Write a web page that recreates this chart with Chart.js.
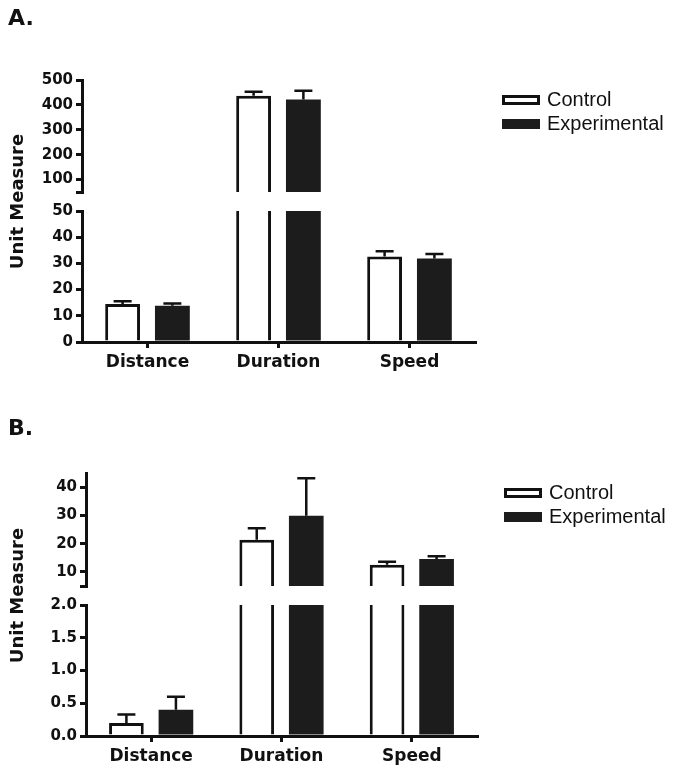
<!DOCTYPE html>
<html>
<head>
<meta charset="utf-8">
<script src="https://cdn.jsdelivr.net/npm/chart.js@4.4.1/dist/chart.umd.min.js"></script>
<style>
  body { margin: 0; background: #fff; }
  canvas { display: block; }
</style>
</head>
<body>
<canvas id="panelA" width="675" height="390"></canvas>
<canvas id="panelB" width="675" height="383"></canvas>
<script>
const categories = ['Distance', 'Duration', 'Speed'];
const seriesNames = ['Control', 'Experimental'];

// Panel A
const controlA = [14.5, 437, 32.6];
const controlErrA = [1.1, 16, 2.0];
const experimentalA = [13.8, 422, 31.9];
const experimentalErrA = [0.9, 35, 1.7];
const lowTicksA = [0, 10, 20, 30, 40, 50];
const highTicksA = [100, 200, 300, 400, 500];

// Panel B
const controlB = [0.2, 21.4, 12.5];
const controlErrB = [0.13, 4.0, 1.1];
const experimentalB = [0.4, 29.9, 14.6];
const experimentalErrB = [0.2, 13.2, 0.9];
const lowTicksB = [0, 0.5, 1.0, 1.5, 2.0];
const highTicksB = [10, 20, 30, 40];

const ink = '#111';
const darkFill = '#1c1c1c';
const boldFont = (size) => ({ family: 'DejaVu Sans', weight: 'bold', size: size });

// draws the upward whiskers for each bar
function errorBarPlugin(p) {
    return {
        id: 'errorBars',
        afterDatasetsDraw(chart) {
            const ctx = chart.ctx;
            ctx.save();
            ctx.strokeStyle = ink;
            ctx.lineWidth = 2.5;
            p.series.forEach((s, si) => {
                const meta = chart.getDatasetMeta(si);
                s.values.forEach((v, i) => {
                    const scale = v > p.lowMax ? chart.scales.yHigh : chart.scales.yLow;
                    const x = meta.data[i].x;
                    const y0 = scale.getPixelForValue(v);
                    const y1 = scale.getPixelForValue(v + s.errors[i]);
                    ctx.beginPath();
                    ctx.moveTo(x, y0);
                    ctx.lineTo(x, y1);
                    ctx.moveTo(x - 9, y1);
                    ctx.lineTo(x + 9, y1);
                    ctx.stroke();
                });
            });
            ctx.restore();
        }
    };
}

// legend to the right of the plot, boxes stacked at the top
const boxLegend = {
    id: 'boxLegend',
    afterDraw(chart) {
        const { ctx, chartArea } = chart;
        const x = chartArea.right + 27;
        ctx.save();
        ctx.font = '20px "Liberation Sans"';
        ctx.textBaseline = 'middle';
        seriesNames.forEach((name, i) => {
            const y = chartArea.top + 20 + i * 24;
            ctx.fillStyle = i === 0 ? '#fff' : darkFill;
            ctx.fillRect(x, y - 5, 38, 10);
            if (i === 0) {
                ctx.lineWidth = 3;
                ctx.strokeStyle = ink;
                ctx.strokeRect(x + 1.5, y - 3.5, 35, 7);
            }
            ctx.fillStyle = ink;
            ctx.fillText(name, x + 45, y);
        });
        ctx.restore();
    }
};

function yAxis(p, tickList, decimals, extra) {
    return Object.assign({
        type: 'linear',
        position: 'left',
        stack: 'y',
        stacked: false,
        border: { color: ink, width: 3 },
        grid: { drawOnChartArea: false, drawTicks: true, tickLength: 6, color: ink, lineWidth: 3 },
        ticks: {
            color: ink,
            padding: 3,
            autoSkip: false,
            font: boldFont(15),
            callback: (v) => tickList.includes(v) ? v.toFixed(decimals) : ''
        },
        afterBuildTicks: (s) => {
            const vals = tickList.includes(s.min) ? tickList : [s.min].concat(tickList);
            s.ticks = vals.map(v => ({ value: v }));
        },
        afterFit: (s) => { s.width = p.axisWidth; }
    }, extra);
}

function buildPanel(id, p) {
    const datasets = [];
    p.series.forEach((s, si) => {
        datasets.push({
            label: seriesNames[si],
            data: s.values.map(v => Math.min(v, p.lowMax)),
            yAxisID: 'yLow',
            stack: 's' + si,
            backgroundColor: si === 0 ? '#fff' : darkFill,
            borderColor: ink,
            borderSkipped: false,
            borderWidth: (c) => si === 1 ? 0 :
                (s.values[c.dataIndex] > p.lowMax ? { top: 0, left: 3, right: 3, bottom: 0 } : { top: 3, left: 3, right: 3, bottom: 0 })
        });
    });
    p.series.forEach((s, si) => {
        datasets.push({
            label: seriesNames[si],
            data: s.values.map(v => v > p.lowMax ? v : null),
            yAxisID: 'yHigh',
            stack: 's' + si,
            backgroundColor: si === 0 ? '#fff' : darkFill,
            borderColor: ink,
            borderSkipped: false,
            borderWidth: si === 1 ? 0 : { top: 3, left: 3, right: 3, bottom: 0 }
        });
    });

    const ctx = document.getElementById(id).getContext('2d');
    return new Chart(ctx, {
        type: 'bar',
        data: { labels: categories, datasets: datasets },
        plugins: [errorBarPlugin(p), boxLegend],
        options: {
            responsive: false,
            animation: false,
            categoryPercentage: 0.76,
            barPercentage: 0.7,
            layout: { padding: { left: 8, right: p.rightPad, top: 0, bottom: 0 } },
            plugins: {
                tooltip: { enabled: false },
                legend: { display: false },
                title: {
                    display: true,
                    text: p.title,
                    align: 'start',
                    color: ink,
                    font: boldFont(22),
                    padding: { top: p.titleTop, bottom: p.titleBottom }
                }
            },
            scales: {
                x: {
                    border: { color: ink, width: 3 },
                    grid: { drawOnChartArea: false, offset: false, tickLength: 6, color: ink, lineWidth: 3 },
                    ticks: { color: ink, font: boldFont(17), padding: 4 },
                    afterFit: (s) => { s.height = p.xHeight; }
                },
                // stacked scales: the first one listed sits at the bottom
                yLow: yAxis(p, p.lowTicks, p.lowDecimals, { min: 0, max: p.lowMax, stackWeight: p.weights[2] }),
                yGap: {
                    type: 'linear',
                    position: 'left',
                    stack: 'y',
                    stackWeight: p.weights[1],
                    border: { display: false },
                    grid: { display: false },
                    ticks: { display: false },
                    title: { display: true, text: 'Unit Measure', color: ink, font: boldFont(18), padding: 0 },
                    afterFit: (s) => { s.width = p.axisWidth; }
                },
                yHigh: yAxis(p, p.highTicks, 0, { min: p.highMin, max: p.highMax, stackWeight: p.weights[0] })
            }
        }
    });
}

document.addEventListener('DOMContentLoaded', () => {
    buildPanel('panelA', {
        title: 'A.',
        series: [
            { values: controlA, errors: controlErrA },
            { values: experimentalA, errors: experimentalErrA }
        ],
        lowMax: 50, highMin: 50, highMax: 500,
        lowTicks: lowTicksA, highTicks: highTicksA,
        lowDecimals: 0,
        weights: [112, 19, 131],
        axisWidth: 74,
        rightPad: 200,
        titleTop: 6, titleBottom: 47.6,
        xHeight: 48
    });

    buildPanel('panelB', {
        title: 'B.',
        series: [
            { values: controlB, errors: controlErrB },
            { values: experimentalB, errors: experimentalErrB }
        ],
        lowMax: 2.0, highMin: 5, highMax: 45,
        lowTicks: lowTicksB, highTicks: highTicksB,
        lowDecimals: 1,
        weights: [113, 19, 131],
        axisWidth: 78,
        rightPad: 198,
        titleTop: 26, titleBottom: 30.6,
        xHeight: 37
    });
});
</script>
</body>
</html>
